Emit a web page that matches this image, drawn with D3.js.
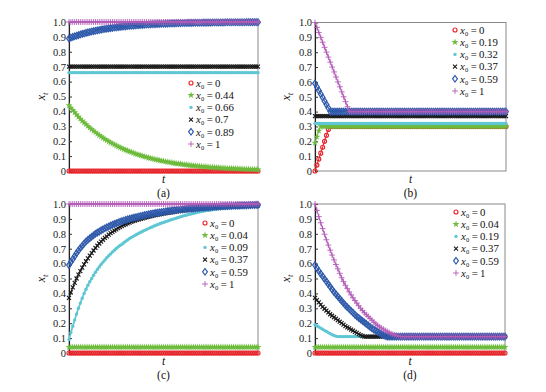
<!DOCTYPE html>
<html><head><meta charset="utf-8">
<script src="https://cdn.jsdelivr.net/npm/d3@7"></script>
<style>body{margin:0;background:#fff}svg{display:block}</style>
</head><body><svg id="c" width="546" height="392"></svg>
<script>
// sample index along t (101 samples)
const tIndex = d3.range(101);
const yTicks = [0,0.1,0.2,0.3,0.4,0.5,0.6,0.7,0.8,0.9,1];
const yTickLabels = ["0","0.1","0.2","0.3","0.4","0.5","0.6","0.7","0.8","0.9","1.0"];
const panelNames = ["(a)","(b)","(c)","(d)"];
const legendA = ["0","0.44","0.66","0.7","0.89","1"];
const legendB = ["0","0.19","0.32","0.37","0.59","1"];
const legendC = ["0","0.04","0.09","0.37","0.59","1"];
const legendD = ["0","0.04","0.19","0.37","0.59","1"];

// ---- panel (a)
const aRed = [0,0,0,0,0,0,0,0,0,0, 0,0,0,0,0,0,0,0,0,0, 0,0,0,0,0,0,0,0,0,0, 0,0,0,0,0,0,0,0,0,0, 0,0,0,0,0,0,0,0,0,0,
 0,0,0,0,0,0,0,0,0,0, 0,0,0,0,0,0,0,0,0,0, 0,0,0,0,0,0,0,0,0,0, 0,0,0,0,0,0,0,0,0,0, 0,0,0,0,0,0,0,0,0,0, 0];
const aGreen = [.44,.424,.408,.393,.378,.364,.35,.337,.325,.313, .301,.29,.279,.269,.259,.249,.24,.231,.222,.214,
 .206,.198,.191,.184,.177,.17,.164,.158,.152,.146, .141,.136,.13,.126,.121,.116,.112,.108,.104,.1,
 .096,.093,.089,.086,.083,.08,.077,.074,.071,.068, .066,.063,.061,.059,.057,.054,.052,.05,.049,.047,
 .045,.043,.042,.04,.039,.037,.036,.035,.033,.032, .031,.03,.029,.027,.026,.025,.025,.024,.023,.022,
 .021,.02,.02,.019,.018,.017,.017,.016,.016,.015, .014,.014,.013,.013,.012,.012,.011,.011,.011,.01, .01];
const aCyan = [.66,.66,.66,.66,.66,.66,.66,.66,.66,.66, .66,.66,.66,.66,.66,.66,.66,.66,.66,.66, .66,.66,.66,.66,.66,.66,.66,.66,.66,.66, .66,.66,.66,.66,.66,.66,.66,.66,.66,.66, .66,.66,.66,.66,.66,.66,.66,.66,.66,.66,
 .66,.66,.66,.66,.66,.66,.66,.66,.66,.66, .66,.66,.66,.66,.66,.66,.66,.66,.66,.66, .66,.66,.66,.66,.66,.66,.66,.66,.66,.66, .66,.66,.66,.66,.66,.66,.66,.66,.66,.66, .66,.66,.66,.66,.66,.66,.66,.66,.66,.66, .66];
const aBlack = [.7,.7,.7,.7,.7,.7,.7,.7,.7,.7, .7,.7,.7,.7,.7,.7,.7,.7,.7,.7, .7,.7,.7,.7,.7,.7,.7,.7,.7,.7, .7,.7,.7,.7,.7,.7,.7,.7,.7,.7, .7,.7,.7,.7,.7,.7,.7,.7,.7,.7,
 .7,.7,.7,.7,.7,.7,.7,.7,.7,.7, .7,.7,.7,.7,.7,.7,.7,.7,.7,.7, .7,.7,.7,.7,.7,.7,.7,.7,.7,.7, .7,.7,.7,.7,.7,.7,.7,.7,.7,.7, .7,.7,.7,.7,.7,.7,.7,.7,.7,.7, .7];
const aBlue = [.89,.895,.9,.904,.908,.912,.916,.92,.923,.927, .93,.933,.936,.939,.941,.944,.946,.949,.951,.953,
 .955,.957,.959,.961,.963,.964,.966,.967,.969,.97, .971,.973,.974,.975,.976,.977,.978,.979,.98,.981,
 .982,.983,.983,.984,.985,.985,.986,.987,.987,.988, .988,.989,.989,.99,.99,.991,.991,.992,.992,.992,
 .993,.993,.993,.994,.994,.994,.995,.995,.995,.995, .995,.996,.996,.996,.996,.996,.997,.997,.997,.997,
 .997,.997,.997,.998,.998,.998,.998,.998,.998,.998, .998,.998,.998,.998,.999,.999,.999,.999,.999,.999, .999];
const aPurple = [1,1,1,1,1,1,1,1,1,1, 1,1,1,1,1,1,1,1,1,1, 1,1,1,1,1,1,1,1,1,1, 1,1,1,1,1,1,1,1,1,1, 1,1,1,1,1,1,1,1,1,1,
 1,1,1,1,1,1,1,1,1,1, 1,1,1,1,1,1,1,1,1,1, 1,1,1,1,1,1,1,1,1,1, 1,1,1,1,1,1,1,1,1,1, 1,1,1,1,1,1,1,1,1,1, 1];

// ---- panel (b)
const bRed = [0,.04,.08,.12,.16,.2,.24,.28,.3,.3, .3,.3,.3,.3,.3,.3,.3,.3,.3,.3, .3,.3,.3,.3,.3,.3,.3,.3,.3,.3, .3,.3,.3,.3,.3,.3,.3,.3,.3,.3, .3,.3,.3,.3,.3,.3,.3,.3,.3,.3,
 .3,.3,.3,.3,.3,.3,.3,.3,.3,.3, .3,.3,.3,.3,.3,.3,.3,.3,.3,.3, .3,.3,.3,.3,.3,.3,.3,.3,.3,.3, .3,.3,.3,.3,.3,.3,.3,.3,.3,.3, .3,.3,.3,.3,.3,.3,.3,.3,.3,.3, .3];
const bGreen = [.19,.23,.27,.3,.3,.3,.3,.3,.3,.3, .3,.3,.3,.3,.3,.3,.3,.3,.3,.3, .3,.3,.3,.3,.3,.3,.3,.3,.3,.3, .3,.3,.3,.3,.3,.3,.3,.3,.3,.3, .3,.3,.3,.3,.3,.3,.3,.3,.3,.3,
 .3,.3,.3,.3,.3,.3,.3,.3,.3,.3, .3,.3,.3,.3,.3,.3,.3,.3,.3,.3, .3,.3,.3,.3,.3,.3,.3,.3,.3,.3, .3,.3,.3,.3,.3,.3,.3,.3,.3,.3, .3,.3,.3,.3,.3,.3,.3,.3,.3,.3, .3];
const bCyan = [.32,.32,.32,.32,.32,.32,.32,.32,.32,.32, .32,.32,.32,.32,.32,.32,.32,.32,.32,.32, .32,.32,.32,.32,.32,.32,.32,.32,.32,.32, .32,.32,.32,.32,.32,.32,.32,.32,.32,.32, .32,.32,.32,.32,.32,.32,.32,.32,.32,.32,
 .32,.32,.32,.32,.32,.32,.32,.32,.32,.32, .32,.32,.32,.32,.32,.32,.32,.32,.32,.32, .32,.32,.32,.32,.32,.32,.32,.32,.32,.32, .32,.32,.32,.32,.32,.32,.32,.32,.32,.32, .32,.32,.32,.32,.32,.32,.32,.32,.32,.32, .32];
const bBlack = [.37,.37,.37,.37,.37,.37,.37,.37,.37,.37, .37,.37,.37,.37,.37,.37,.37,.37,.37,.37, .37,.37,.37,.37,.37,.37,.37,.37,.37,.37, .37,.37,.37,.37,.37,.37,.37,.37,.37,.37, .37,.37,.37,.37,.37,.37,.37,.37,.37,.37,
 .37,.37,.37,.37,.37,.37,.37,.37,.37,.37, .37,.37,.37,.37,.37,.37,.37,.37,.37,.37, .37,.37,.37,.37,.37,.37,.37,.37,.37,.37, .37,.37,.37,.37,.37,.37,.37,.37,.37,.37, .37,.37,.37,.37,.37,.37,.37,.37,.37,.37, .37];
const bBlue = [.59,.566,.542,.519,.495,.471,.447,.424,.4,.4, .4,.4,.4,.4,.4,.4,.4,.4,.4,.4, .4,.4,.4,.4,.4,.4,.4,.4,.4,.4, .4,.4,.4,.4,.4,.4,.4,.4,.4,.4, .4,.4,.4,.4,.4,.4,.4,.4,.4,.4,
 .4,.4,.4,.4,.4,.4,.4,.4,.4,.4, .4,.4,.4,.4,.4,.4,.4,.4,.4,.4, .4,.4,.4,.4,.4,.4,.4,.4,.4,.4, .4,.4,.4,.4,.4,.4,.4,.4,.4,.4, .4,.4,.4,.4,.4,.4,.4,.4,.4,.4, .4];
const bPurple = [1,.967,.933,.9,.867,.833,.8,.767,.733,.7, .667,.633,.6,.567,.533,.5,.467,.433,.4,.4, .4,.4,.4,.4,.4,.4,.4,.4,.4,.4, .4,.4,.4,.4,.4,.4,.4,.4,.4,.4, .4,.4,.4,.4,.4,.4,.4,.4,.4,.4,
 .4,.4,.4,.4,.4,.4,.4,.4,.4,.4, .4,.4,.4,.4,.4,.4,.4,.4,.4,.4, .4,.4,.4,.4,.4,.4,.4,.4,.4,.4, .4,.4,.4,.4,.4,.4,.4,.4,.4,.4, .4,.4,.4,.4,.4,.4,.4,.4,.4,.4, .4];

// ---- panel (c)
const cRed = [0,0,0,0,0,0,0,0,0,0, 0,0,0,0,0,0,0,0,0,0, 0,0,0,0,0,0,0,0,0,0, 0,0,0,0,0,0,0,0,0,0, 0,0,0,0,0,0,0,0,0,0,
 0,0,0,0,0,0,0,0,0,0, 0,0,0,0,0,0,0,0,0,0, 0,0,0,0,0,0,0,0,0,0, 0,0,0,0,0,0,0,0,0,0, 0,0,0,0,0,0,0,0,0,0, 0];
const cGreen = [.04,.04,.04,.04,.04,.04,.04,.04,.04,.04, .04,.04,.04,.04,.04,.04,.04,.04,.04,.04, .04,.04,.04,.04,.04,.04,.04,.04,.04,.04, .04,.04,.04,.04,.04,.04,.04,.04,.04,.04, .04,.04,.04,.04,.04,.04,.04,.04,.04,.04,
 .04,.04,.04,.04,.04,.04,.04,.04,.04,.04, .04,.04,.04,.04,.04,.04,.04,.04,.04,.04, .04,.04,.04,.04,.04,.04,.04,.04,.04,.04, .04,.04,.04,.04,.04,.04,.04,.04,.04,.04, .04,.04,.04,.04,.04,.04,.04,.04,.04,.04, .04];
const cCyan = [.09,.137,.18,.222,.262,.3,.335,.368,.4,.428, .455,.478,.5,.522,.542,.56,.578,.595,.61,.625,
 .64,.653,.665,.678,.69,.701,.712,.721,.73,.74, .75,.759,.768,.776,.783,.79,.797,.804,.81,.817,
 .823,.829,.835,.841,.846,.852,.857,.862,.867,.872, .876,.881,.885,.89,.894,.898,.902,.906,.91,.914,
 .918,.922,.925,.929,.932,.935,.938,.941,.944,.947, .949,.952,.954,.956,.958,.96,.962,.964,.966,.968,
 .969,.971,.972,.974,.975,.976,.977,.978,.979,.98, .981,.982,.983,.984,.984,.985,.985,.986,.986,.987, .987];
const cBlack = [.37,.407,.44,.471,.5,.526,.55,.573,.595,.616, .635,.653,.67,.688,.705,.72,.735,.748,.76,.772,
 .783,.794,.804,.813,.822,.83,.838,.845,.852,.858, .864,.87,.875,.88,.885,.889,.893,.897,.9,.904,
 .907,.911,.914,.917,.92,.923,.925,.928,.93,.933, .935,.938,.94,.942,.944,.946,.948,.95,.952,.954,
 .955,.957,.958,.96,.961,.963,.964,.966,.967,.968, .969,.97,.971,.972,.973,.974,.975,.976,.977,.978,
 .979,.98,.98,.981,.982,.983,.983,.984,.985,.986, .986,.987,.987,.988,.988,.989,.989,.99,.99,.991, .991];
const cBlue = [.59,.61,.63,.65,.67,.688,.705,.72,.735,.748, .76,.77,.78,.79,.8,.808,.815,.823,.83,.837,
 .843,.849,.855,.861,.866,.871,.876,.881,.885,.889, .893,.897,.9,.904,.907,.91,.913,.916,.919,.922,
 .925,.928,.93,.933,.935,.938,.94,.942,.944,.946, .948,.95,.952,.954,.955,.957,.958,.96,.961,.963,
 .964,.966,.967,.968,.969,.97,.971,.972,.973,.974, .975,.976,.977,.978,.979,.98,.981,.982,.982,.983,
 .984,.985,.985,.986,.986,.987,.987,.988,.988,.989, .989,.99,.99,.991,.991,.992,.992,.993,.993,.994, .994];
const cPurple = [1,1,1,1,1,1,1,1,1,1, 1,1,1,1,1,1,1,1,1,1, 1,1,1,1,1,1,1,1,1,1, 1,1,1,1,1,1,1,1,1,1, 1,1,1,1,1,1,1,1,1,1,
 1,1,1,1,1,1,1,1,1,1, 1,1,1,1,1,1,1,1,1,1, 1,1,1,1,1,1,1,1,1,1, 1,1,1,1,1,1,1,1,1,1, 1,1,1,1,1,1,1,1,1,1, 1];

// ---- panel (d)
const dRed = [0,0,0,0,0,0,0,0,0,0, 0,0,0,0,0,0,0,0,0,0, 0,0,0,0,0,0,0,0,0,0, 0,0,0,0,0,0,0,0,0,0, 0,0,0,0,0,0,0,0,0,0,
 0,0,0,0,0,0,0,0,0,0, 0,0,0,0,0,0,0,0,0,0, 0,0,0,0,0,0,0,0,0,0, 0,0,0,0,0,0,0,0,0,0, 0,0,0,0,0,0,0,0,0,0, 0];
const dGreen = [.04,.04,.04,.04,.04,.04,.04,.04,.04,.04, .04,.04,.04,.04,.04,.04,.04,.04,.04,.04, .04,.04,.04,.04,.04,.04,.04,.04,.04,.04, .04,.04,.04,.04,.04,.04,.04,.04,.04,.04, .04,.04,.04,.04,.04,.04,.04,.04,.04,.04,
 .04,.04,.04,.04,.04,.04,.04,.04,.04,.04, .04,.04,.04,.04,.04,.04,.04,.04,.04,.04, .04,.04,.04,.04,.04,.04,.04,.04,.04,.04, .04,.04,.04,.04,.04,.04,.04,.04,.04,.04, .04,.04,.04,.04,.04,.04,.04,.04,.04,.04, .04];
const dCyan = [.19,.182,.175,.167,.16,.152,.145,.137,.13,.123, .117,.113,.11,.11,.11,.11,.11,.11,.11,.11, .11,.11,.11,.11,.11,.11,.11,.11,.11,.11, .11,.11,.11,.11,.11,.11,.11,.11,.11,.11, .11,.11,.11,.11,.11,.11,.11,.11,.11,.11,
 .11,.11,.11,.11,.11,.11,.11,.11,.11,.11, .11,.11,.11,.11,.11,.11,.11,.11,.11,.11, .11,.11,.11,.11,.11,.11,.11,.11,.11,.11, .11,.11,.11,.11,.11,.11,.11,.11,.11,.11, .11,.11,.11,.11,.11,.11,.11,.11,.11,.11, .11];
const dBlack = [.37,.355,.34,.325,.31,.297,.285,.272,.26,.25, .24,.23,.22,.21,.2,.19,.18,.172,.165,.157, .15,.142,.135,.127,.12,.114,.11,.11,.11,.11, .11,.11,.11,.11,.11,.11,.11,.11,.11,.11, .11,.11,.11,.11,.11,.11,.11,.11,.11,.11,
 .11,.11,.11,.11,.11,.11,.11,.11,.11,.11, .11,.11,.11,.11,.11,.11,.11,.11,.11,.11, .11,.11,.11,.11,.11,.11,.11,.11,.11,.11, .11,.11,.11,.11,.11,.11,.11,.11,.11,.11, .11,.11,.11,.11,.11,.11,.11,.11,.11,.11, .11];
const dBlue = [.59,.57,.55,.532,.515,.497,.48,.462,.445,.427, .41,.395,.38,.365,.35,.335,.32,.307,.295,.282, .27,.257,.245,.235,.225,.215,.205,.195,.185,.175, .165,.157,.15,.142,.135,.127,.12,.114,.11,.11, .11,.11,.11,.11,.11,.11,.11,.11,.11,.11,
 .11,.11,.11,.11,.11,.11,.11,.11,.11,.11, .11,.11,.11,.11,.11,.11,.11,.11,.11,.11, .11,.11,.11,.11,.11,.11,.11,.11,.11,.11, .11,.11,.11,.11,.11,.11,.11,.11,.11,.11, .11,.11,.11,.11,.11,.11,.11,.11,.11,.11, .11];
const dPurple = [1,.957,.915,.874,.835,.797,.76,.724,.69,.657, .625,.594,.565,.535,.505,.479,.455,.432,.41,.39, .37,.352,.335,.317,.3,.285,.27,.257,.245,.232, .22,.207,.195,.185,.175,.167,.16,.152,.145,.137, .13,.125,.12,.116,.113,.111,.11,.11,.11,.11,
 .11,.11,.11,.11,.11,.11,.11,.11,.11,.11, .11,.11,.11,.11,.11,.11,.11,.11,.11,.11, .11,.11,.11,.11,.11,.11,.11,.11,.11,.11, .11,.11,.11,.11,.11,.11,.11,.11,.11,.11, .11,.11,.11,.11,.11,.11,.11,.11,.11,.11, .11];

// ---- styles & layout (not data)
const colors = ["#e8262b","#6dbb3c","#5fc7d3","#1a1a1a","#2f5aab","#b35bb8"];
const FONT = "'Liberation Serif','DejaVu Serif','Times New Roman',serif";
const panels = [
  {name:panelNames[0], series:[aRed,aGreen,aCyan,aBlack,aBlue,aPurple], legend:legendA, x0:69, x1:258, y0:22, y1:171, lx:191, ly:83, ylx:45},
  {name:panelNames[1], series:[bRed,bGreen,bCyan,bBlack,bBlue,bPurple], legend:legendB, x0:315, x1:506, y0:22.5, y1:171, lx:455, ly:30, ylx:290},
  {name:panelNames[2], series:[cRed,cGreen,cCyan,cBlack,cBlue,cPurple], legend:legendC, x0:69, x1:258, y0:204, y1:353, lx:205, ly:223, ylx:45},
  {name:panelNames[3], series:[dRed,dGreen,dCyan,dBlack,dBlue,dPurple], legend:legendD, x0:315, x1:505, y0:204, y1:353, lx:456, ly:212, ylx:290}
];

const svg = d3.select("#c");

function drawMarker(g, k, cx, cy) {
  const c = colors[k];
  if (k === 0) {
    g.append("circle").attr("cx",cx).attr("cy",cy).attr("r",2)
      .attr("fill","none").attr("stroke",c).attr("stroke-width",1.15);
  } else if (k === 1) {
    g.append("path").attr("transform",`translate(${cx},${cy})`)
      .attr("d", d3.symbol(d3.symbolStar, 15)()).attr("fill",c);
  } else if (k === 2) {
    g.append("circle").attr("cx",cx).attr("cy",cy).attr("r",1.7).attr("fill",c);
  } else if (k === 3) {
    g.append("path").attr("transform",`translate(${cx},${cy})`)
      .attr("d", d3.symbol(d3.symbolTimes, 12)()).attr("fill","none")
      .attr("stroke",c).attr("stroke-width",1.15);
  } else if (k === 4) {
    g.append("path").attr("transform",`translate(${cx},${cy})`)
      .attr("d","M0,-3.3L2.4,0L0,3.3L-2.4,0Z").attr("fill","none")
      .attr("stroke",c).attr("stroke-width",1.2);
  } else {
    g.append("path").attr("transform",`translate(${cx},${cy})`)
      .attr("d", d3.symbol(d3.symbolPlus, 13)()).attr("fill","none")
      .attr("stroke",c).attr("stroke-width",0.9);
  }
}

panels.forEach(p => {
  const x = d3.scaleLinear().domain([0,100]).range([p.x0,p.x1]);
  const y = d3.scaleLinear().domain([0,1]).range([p.y1,p.y0]);
  const g = svg.append("g");

  g.append("rect").attr("x",p.x0).attr("y",p.y0).attr("width",p.x1-p.x0).attr("height",p.y1-p.y0)
    .attr("fill","none").attr("stroke","#8a8a8a").attr("stroke-width",1);

  const ax = g.append("g").attr("transform",`translate(${p.x0},0)`)
    .call(d3.axisLeft(y).tickValues(yTicks).tickFormat((d,i)=>yTickLabels[i])
      .tickSizeInner(-3).tickSizeOuter(0).tickPadding(3));
  ax.select(".domain").attr("stroke","#222").attr("stroke-width",1.1);
  ax.selectAll(".tick line").attr("stroke","#333");
  ax.selectAll("text").attr("font-family",FONT).attr("font-size",10.5).attr("fill","#1a1a1a");

  p.series.forEach((vals,k) => {
    const line = d3.line().x((d,i)=>x(tIndex[i])).y(d=>y(d));
    g.append("path").datum(vals).attr("d",line).attr("fill","none")
      .attr("stroke",colors[k]).attr("stroke-width", k===2 ? 1.8 : 1.1);
    const mg = g.append("g");
    vals.forEach((v,i) => drawMarker(mg, k, x(tIndex[i]), y(v)));
  });

  p.legend.forEach((lab,k) => {
    const ly = p.ly + k*12.2;
    drawMarker(g, k, p.lx, ly);
    const t = g.append("text").attr("x",p.lx+5).attr("y",ly+3.8)
      .attr("font-family",FONT).attr("font-size",10.8).attr("fill","#111");
    t.append("tspan").attr("font-style","italic").text("x");
    t.append("tspan").text("\u2080\u2009=\u2009" + lab);
  });

  const yl = g.append("text").attr("transform",`translate(${p.ylx},${(p.y0+p.y1)/2}) rotate(-90)`)
    .attr("text-anchor","middle").attr("font-family",FONT).attr("font-size",12).attr("fill","#111");
  yl.append("tspan").attr("font-style","italic").text("x");
  yl.append("tspan").attr("font-size",8.5).attr("dy",2.6).attr("font-style","italic").text("t");

  const mx = (p.x0+p.x1)/2;
  g.append("text").attr("x",mx).attr("y",p.y1+12).attr("text-anchor","middle")
    .attr("font-family",FONT).attr("font-style","italic").attr("font-size",11.5).attr("fill","#111").text("t");
  g.append("text").attr("x",mx).attr("y",p.y1+25.5).attr("text-anchor","middle")
    .attr("font-family",FONT).attr("font-size",11.5).attr("fill","#111").text(p.name);
});
</script></body></html>
